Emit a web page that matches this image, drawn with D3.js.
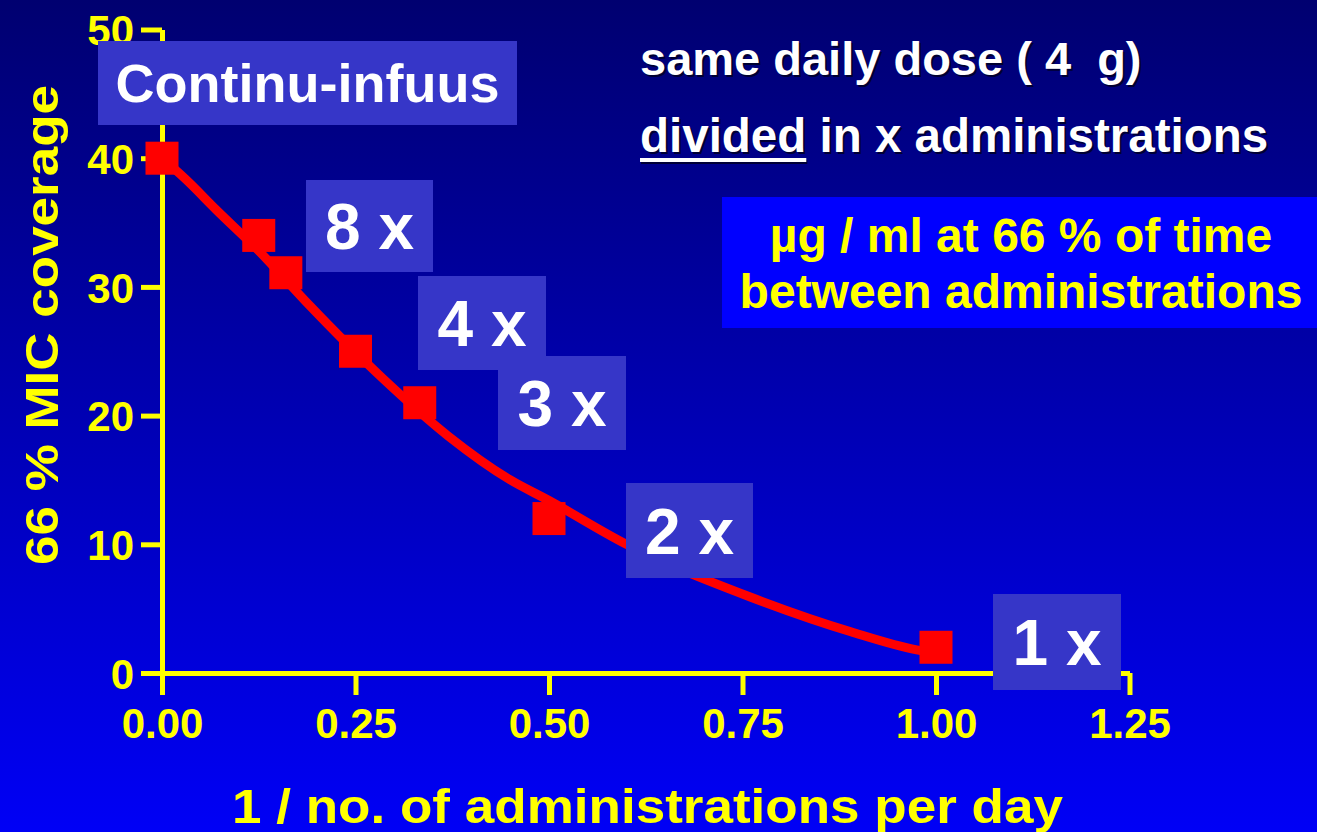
<!DOCTYPE html>
<html>
<head>
<meta charset="utf-8">
<script src="https://cdn.jsdelivr.net/npm/d3@7/dist/d3.min.js"></script>
<style>
  html, body { margin: 0; padding: 0; background: #0000a0; }
  svg { display: block; }
  text { font-family: "Liberation Sans", Arial, sans-serif; font-weight: bold; white-space: pre; }
</style>
</head>
<body>
<svg id="chart" width="1317" height="832"></svg>
<script>
// ---- data ----
const pointX = [0, 0.125, 0.16, 0.25, 0.333, 0.5, 1.0];
const pointY = [40, 34.0, 31.1, 25.0, 21.0, 12.0, 2.0];

const fitX = [0, 0.03, 0.07, 0.125, 0.19, 0.285, 0.37, 0.45, 0.5, 0.6, 0.76, 0.89, 0.975, 0.995];
const fitY = [40, 38.4, 36.0, 32.8, 28.6, 22.9, 18.4, 15.0, 13.4, 10.0, 5.9, 3.2, 1.8, 1.6];

const xTicks = [0, 0.25, 0.5, 0.75, 1.0, 1.25];
const yTicks = [0, 10, 20, 30, 40, 50];

const doseLabels = ["Continu-infuus", "8 x", "4 x", "3 x", "2 x", "1 x"];

const xTitle = "1 / no. of administrations per day";
const yTitle = "66 % MIC coverage";
const noteLine1 = "same daily dose ( 4  g)";
const noteWord2 = "divided";
const noteRest2 = " in x administrations";
const boxLines = ["µg / ml at 66 % of time", "between administrations"];

// ---- layout (annotation boxes, pixels) ----
const labelLayout = [
  { left: 98,  top: 41,  w: 419, h: 84, size: 54 },
  { left: 306, top: 180, w: 127, h: 92, size: 64 },
  { left: 418, top: 276, w: 128, h: 94, size: 64 },
  { left: 498, top: 356, w: 128, h: 94, size: 64 },
  { left: 626, top: 483, w: 127, h: 95, size: 64 },
  { left: 993, top: 594, w: 128, h: 96, size: 64 }
];

const svg = d3.select("#chart");
const W = 1317, H = 832;

// background gradient
const defs = svg.append("defs");
const grad = defs.append("linearGradient").attr("id", "bg").attr("x1", 0).attr("y1", 0).attr("x2", 0).attr("y2", 1);
grad.append("stop").attr("offset", "0%").attr("stop-color", "#000070");
grad.append("stop").attr("offset", "100%").attr("stop-color", "#0000f6");
svg.append("rect").attr("width", W).attr("height", H).attr("fill", "url(#bg)");

// scales
const x = d3.scaleLinear().domain([0, 1.25]).range([162, 1129.5]);
const y = d3.scaleLinear().domain([0, 50]).range([673, 29.5]);

const yellow = "#ffff00";

// x axis
const gx = svg.append("g").attr("transform", `translate(0,${y(0)})`)
  .call(d3.axisBottom(x).tickValues(xTicks).tickSize(22).tickSizeOuter(0).tickFormat(d3.format(".2f")));
// y axis
const gy = svg.append("g").attr("transform", `translate(${x(0)},0)`)
  .call(d3.axisLeft(y).tickValues(yTicks).tickSize(21).tickSizeOuter(0).tickFormat(d3.format("d")));

[gx, gy].forEach(g => {
  g.select(".domain").attr("stroke", yellow).attr("stroke-width", 5);
  g.selectAll(".tick line").attr("stroke", yellow).attr("stroke-width", 5);
  g.selectAll(".tick text").attr("fill", yellow).style("font-size", "42px")
   .style("font-family", "'Liberation Sans', Arial, sans-serif").style("font-weight", "bold");
});
gx.selectAll(".tick text").attr("y", 65).attr("dy", null);
gy.selectAll(".tick text").attr("x", -28).attr("dy", "0.36em");

// fitted curve
const line = d3.line().x(d => x(d[0])).y(d => y(d[1])).curve(d3.curveMonotoneX);
svg.append("path")
  .datum(fitX.map((v, i) => [v, fitY[i]]))
  .attr("d", line)
  .attr("fill", "none")
  .attr("stroke", "#ff0000")
  .attr("stroke-width", 9)
  .attr("stroke-linejoin", "round");

// markers
const ms = 33;
svg.append("g").selectAll("rect")
  .data(pointX.map((v, i) => [v, pointY[i]]))
  .join("rect")
  .attr("x", d => x(d[0]) - ms / 2)
  .attr("y", d => y(d[1]) - ms / 2)
  .attr("width", ms).attr("height", ms)
  .attr("fill", "#ff0000");

// label boxes
const lb = svg.append("g").selectAll("g")
  .data(doseLabels.map((t, i) => Object.assign({ text: t }, labelLayout[i])))
  .join("g");
lb.append("rect")
  .attr("x", d => d.left).attr("y", d => d.top)
  .attr("width", d => d.w).attr("height", d => d.h)
  .attr("fill", "#3636c8");
lb.append("text")
  .attr("x", d => d.left + d.w / 2)
  .attr("y", d => d.top + d.h / 2 + d.size * 0.36)
  .attr("text-anchor", "middle")
  .attr("fill", "#ffffff")
  .style("font-size", d => d.size + "px")
  .text(d => d.text);

// top-right notes with slight shadow
function shadowText(g, xx, yy, size, fill, build) {
  const s = g.append("text").attr("x", xx + 2).attr("y", yy + 2).attr("fill", "#000020").attr("opacity", 0.8).style("font-size", size + "px");
  build(s);
  const t = g.append("text").attr("x", xx).attr("y", yy).attr("fill", fill).style("font-size", size + "px");
  build(t);
  return t;
}
const notes = svg.append("g");
shadowText(notes, 640, 75, 47, "#ffffff", t => t.text(noteLine1));
const l2 = shadowText(notes, 640, 152, 47.5, "#ffffff", t => {
  t.append("tspan").text(noteWord2);
  t.append("tspan").text(noteRest2);
});
// underline of "divided"
const wordW = l2.select("tspan").node().getComputedTextLength();
notes.append("rect").attr("x", 641).attr("y", 160).attr("width", wordW).attr("height", 4).attr("fill", "#000020").attr("opacity", 0.8);
notes.append("rect").attr("x", 640).attr("y", 158).attr("width", wordW).attr("height", 4).attr("fill", "#ffffff");

// blue info box
svg.append("rect").attr("x", 722).attr("y", 197).attr("width", W - 722).attr("height", 131).attr("fill", "#0000ff");
svg.append("g").selectAll("text").data(boxLines).join("text")
  .attr("x", 1021).attr("y", (d, i) => 252 + i * 56)
  .attr("text-anchor", "middle")
  .attr("fill", yellow)
  .style("font-size", "48px")
  .text(d => d);

// axis titles
svg.append("text")
  .attr("x", 647.5).attr("y", 823)
  .attr("text-anchor", "middle")
  .attr("fill", yellow)
  .attr("textLength", 831).attr("lengthAdjust", "spacingAndGlyphs")
  .style("font-size", "49px")
  .text(xTitle);

svg.append("text")
  .attr("transform", "translate(58,325) rotate(-90)")
  .attr("text-anchor", "middle")
  .attr("fill", yellow)
  .attr("textLength", 480).attr("lengthAdjust", "spacingAndGlyphs")
  .style("font-size", "47px")
  .text(yTitle);
</script>
</body>
</html>
